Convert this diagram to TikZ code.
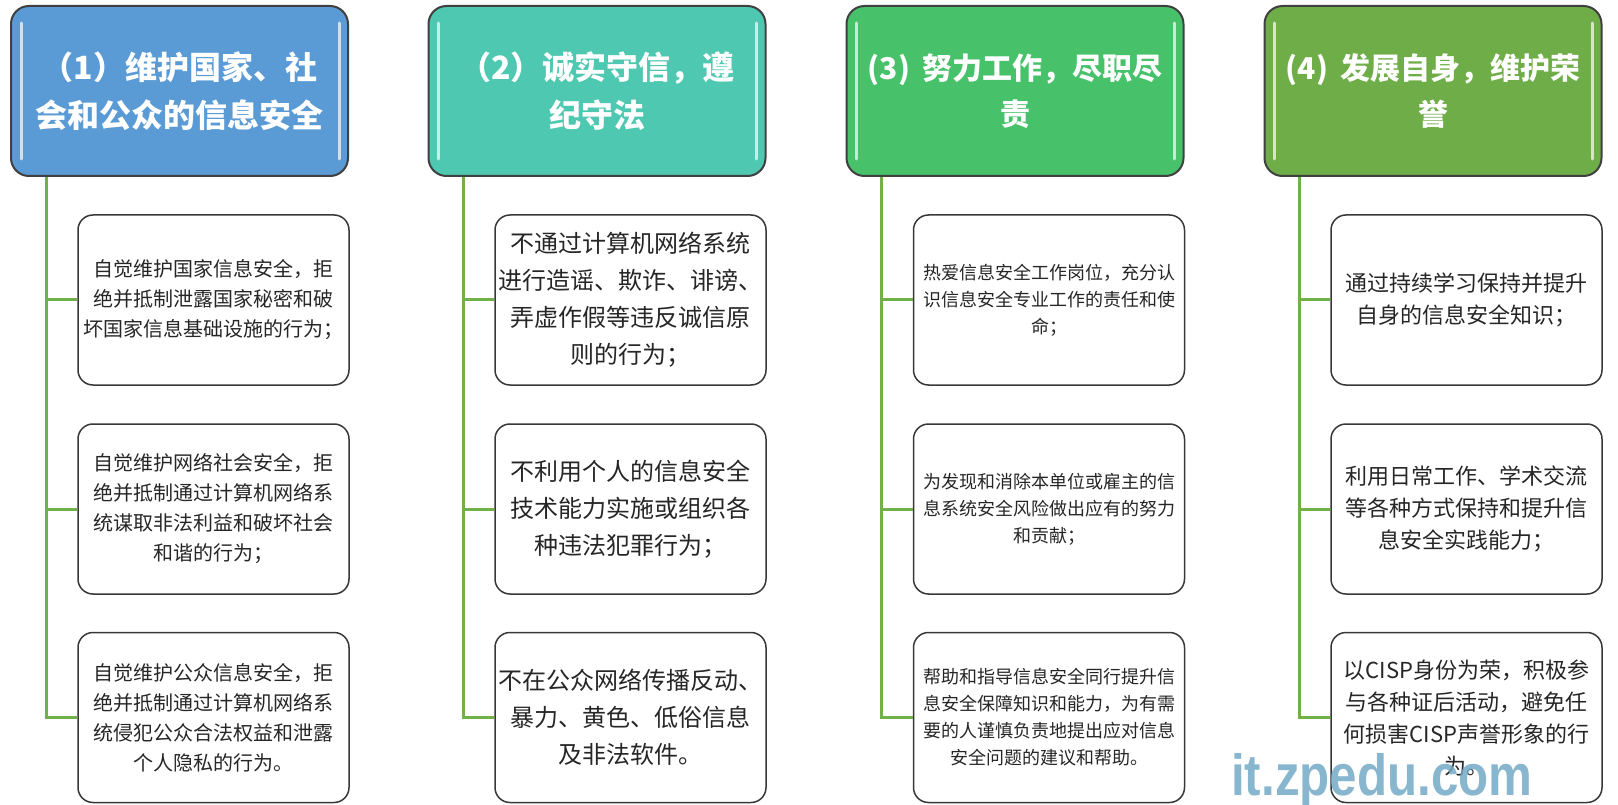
\documentclass[tikz,border=0pt]{standalone}
\usepackage{fontspec}
\usepackage{graphicx}
\newfontfamily\cjk{Noto Sans CJK SC}
\newfontfamily\wmfont{Liberation Sans}
\usetikzlibrary{calc}
\definecolor{hblue}{HTML}{5B9BD5}
\definecolor{hteal}{HTML}{4EC8B0}
\definecolor{hgreen}{HTML}{47C16A}
\definecolor{holive}{HTML}{6EAD47}
\definecolor{connc}{HTML}{72B04A}
\definecolor{wmc}{HTML}{72AAC6}
\begin{document}
\begin{tikzpicture}[x=1pt,y=-1pt,
 header/.style={draw=black!75, line width=2pt, rounded corners=18pt, minimum width=337pt, minimum height=170pt, inner sep=0pt, text=white, align=center, font=\cjk\bfseries\fontsize{32}{48}\selectfont},
 hsmall/.style={font=\cjk\bfseries\fontsize{30}{46}\selectfont},
 item/.style={draw=black!78, line width=1.5pt, rounded corners=15pt, minimum width=271pt, minimum height=170pt, inner sep=0pt, text=black!85, align=center},
 fa/.style={font=\cjk\fontsize{20}{30}\selectfont},
 fb/.style={font=\cjk\fontsize{24}{37}\selectfont},
 fc/.style={font=\cjk\fontsize{18}{27}\selectfont},
 fd/.style={font=\cjk\fontsize{22}{32}\selectfont},
 connline/.style={draw=connc, line width=3pt},
 shine/.style={draw=white, opacity=0.7, line width=3pt, line cap=round},
]
\fill[white] (0,0) rectangle (1618,805);
\useasboundingbox (0,0) rectangle (1618,805);

% headers
\node[header, fill=hblue] (h1) at (179.5,91) {（1）维护国家、社\\会和公众的信息安全};
\node[header, fill=hteal] (h2) at (597,91) {（2）诚实守信，遵\\纪守法};
\node[header, hsmall, fill=hgreen] (h3) at (1015,91) {(3)\, 努力工作，尽职尽\\责};
\node[header, hsmall, fill=holive] (h4) at (1433,91) {(4)\, 发展自身，维护荣\\誉};

\foreach \h in {h1,h2,h3,h4}{
  \draw[shine] ($(\h.north west)+(11,18)$) -- ($(\h.south west)+(11,-18)$);
  \draw[shine] ($(\h.north east)+(-10,18)$) -- ($(\h.south east)+(-10,-18)$);
}

% column 1
\node[item, fa] (c11) at (213.5,300) {自觉维护国家信息安全，拒\\绝并抵制泄露国家秘密和破\\坏国家信息基础设施的行为；};
\node[item, fa] (c12) at (213.5,509) {自觉维护网络社会安全，拒\\绝并抵制通过计算机网络系\\统谋取非法利益和破坏社会\\和谐的行为；};
\node[item, fa] (c13) at (213.5,717.5) {自觉维护公众信息安全，拒\\绝并抵制通过计算机网络系\\统侵犯公众合法权益和泄露\\个人隐私的行为。};

% column 2
\node[item, fb] (c21) at (630.5,300) {不通过计算机网络系统\\进行造谣、欺诈、诽谤、\\弄虚作假等违反诚信原\\则的行为；};
\node[item, fb] (c22) at (630.5,509) {不利用个人的信息安全\\技术能力实施或组织各\\种违法犯罪行为；};
\node[item, fb] (c23) at (630.5,717.5) {不在公众网络传播反动、\\暴力、黄色、低俗信息\\及非法软件。};

% column 3
\node[item, fc] (c31) at (1049,300) {热爱信息安全工作岗位，充分认\\识信息安全专业工作的责任和使\\命；};
\node[item, fc] (c32) at (1049,509) {为发现和消除本单位或雇主的信\\息系统安全风险做出应有的努力\\和贡献；};
\node[item, fc] (c33) at (1049,717.5) {帮助和指导信息安全同行提升信\\息安全保障知识和能力，为有需\\要的人谨慎负责地提出应对信息\\安全问题的建议和帮助。};

% column 4
\node[item, fd] (c41) at (1466.5,300) {通过持续学习保持并提升\\自身的信息安全知识；};
\node[item, fd] (c42) at (1466.5,509) {利用日常工作、学术交流\\等各种方式保持和提升信\\息安全实践能力；};
\node[item, fd] (c43) at (1466.5,717.5) {以CISP身份为荣，积极参\\与各种证后活动，避免任\\何损害CISP声誉形象的行\\为。};

% connectors
\foreach \i in {1,2,3,4}{
  \coordinate (v\i) at ($(h\i.south west)+(36,0)$);
  \foreach \j in {1,2,3}{
    \draw[connline] (v\i) |- (c\i\j.west);
  }
}

% watermark
\node[anchor=base west, text=wmc, opacity=0.85, inner sep=0pt, font=\wmfont\bfseries\fontsize{58}{58}\selectfont] (wm) at (1231,795) {\scalebox{0.85}[1]{it.zpedu.com}};
\end{tikzpicture}
\end{document}
